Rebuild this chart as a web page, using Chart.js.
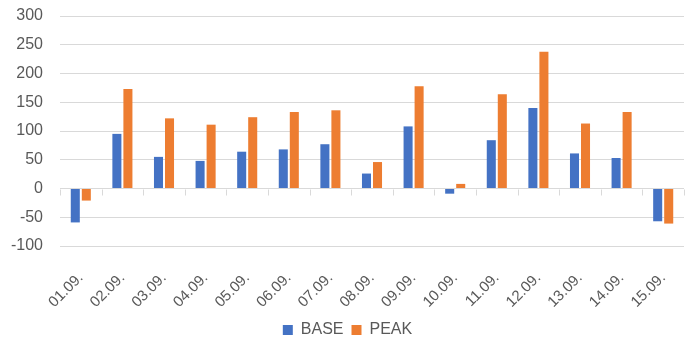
<!DOCTYPE html>
<html>
<head>
<meta charset="utf-8">
<script src="https://cdn.jsdelivr.net/npm/chart.js@4/dist/chart.umd.min.js"></script>
<style>
    html, body { margin: 0; padding: 0; background: #fff; }
    #wrap { width: 692px; height: 343px; }
</style>
</head>
<body>
<div id="wrap"><canvas id="chart"></canvas></div>
<script>
// ===== DAILY BASE / PEAK BAR CHART =====

const days = ['01.09.', '02.09.', '03.09.', '04.09.', '05.09.', '06.09.', '07.09.', '08.09.',
    '09.09.', '10.09.', '11.09.', '12.09.', '13.09.', '14.09.', '15.09.'];
const baseValues = [-59, 95, 55, 48, 64, 68, 77, 26, 108, -9, 84, 140, 61, 53, -57];
const peakValues = [-21, 173, 122, 111, 124, 133, 136, 46, 178, 8, 164, 238, 113, 133, -61];
const yTicks = [-100, -50, 0, 50, 100, 150, 200, 250, 300];

const baseColor = '#4472C4';
const peakColor = '#ED7D31';
const gridColor = '#d9d9d9';
const textColor = '#595959';
const fontFamily = "'Liberation Sans', Arial, sans-serif";

// Small tick marks on the zero line between the categories
const zeroTicks = {
    id: 'zeroTicks',
    afterDatasetsDraw(chart) {
        const { ctx, scales: { x, y } } = chart;
        const y0 = Math.round(y.getPixelForValue(0)) + 0.5;
        ctx.save();
        ctx.strokeStyle = gridColor;
        ctx.lineWidth = 1;
        ctx.beginPath();
        for (let i = 0; i <= days.length; i++) {
            const px = Math.round(x.getPixelForValue(i - 0.5)) + 0.5;
            ctx.moveTo(px, y0);
            ctx.lineTo(px, y0 + 6);
        }
        ctx.stroke();
        ctx.restore();
    }
};

new Chart(document.getElementById('chart'), {
    type: 'bar',
    data: {
        labels: days,
        datasets: [
            { label: 'BASE', data: baseValues, backgroundColor: baseColor },
            { label: 'PEAK', data: peakValues, backgroundColor: peakColor }
        ]
    },
    options: {
        responsive: true,
        maintainAspectRatio: false,
        animation: false,
        datasets: {
            bar: { categoryPercentage: 0.53, barPercentage: 0.82 }
        },
        layout: { padding: { left: 11, right: 8, top: 16, bottom: -5 } },
        scales: {
            x: {
                grid: { display: false },
                border: { display: false },
                // rotated labels may hang into the y-axis column
                afterFit: (scale) => {
                    scale.paddingLeft = 0;
                    scale.paddingRight = 0;
                    scale.height = 68;
                },
                ticks: {
                    color: textColor,
                    font: { family: fontFamily, size: 15 },
                    maxRotation: 45,
                    minRotation: 45,
                    padding: 15,
                    autoSkip: false
                }
            },
            y: {
                min: -100,
                max: 300,
                afterBuildTicks: (axis) => { axis.ticks = yTicks.map(v => ({ value: v })); },
                afterFit: (scale) => {
                    scale.paddingTop = 0;
                    scale.paddingBottom = 0;
                    scale.width = 49;
                },
                grid: { color: gridColor, lineWidth: 1, drawTicks: false },
                border: { display: false },
                ticks: {
                    color: textColor,
                    font: { family: fontFamily, size: 16 },
                    padding: 17
                }
            }
        },
        plugins: {
            legend: {
                position: 'bottom',
                labels: {
                    color: textColor,
                    font: { family: fontFamily, size: 16 },
                    boxWidth: 10,
                    boxHeight: 10,
                    padding: 8
                }
            },
            tooltip: { enabled: false }
        }
    },
    plugins: [zeroTicks]
});
</script>
</body>
</html>
